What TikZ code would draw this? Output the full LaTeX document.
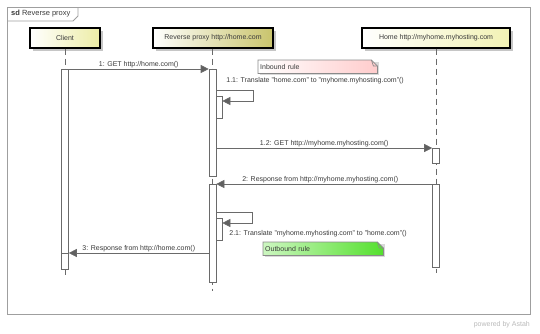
\documentclass[tikz,border=0pt]{standalone}
\usepackage{fontspec}
\setmainfont{Liberation Sans}
\usetikzlibrary{arrows.meta,shadows,calc}
\pgfdeclarelayer{bg}
\pgfsetlayers{bg,main}
\definecolor{linegray}{HTML}{6A6A6A}
\definecolor{txt}{HTML}{3A3A3A}
\definecolor{clientY}{HTML}{EDEDA6}
\definecolor{rpY}{HTML}{C9C46C}
\definecolor{homeY}{HTML}{F2F2B4}
\definecolor{pinkR}{HTML}{FFCCCC}
\definecolor{greenL}{HTML}{CCF6C0}
\definecolor{greenR}{HTML}{55E02E}
\definecolor{notegray}{HTML}{8A8A8A}
\begin{document}
\begin{tikzpicture}[x=1pt,y=-1pt,
  font=\fontsize{7}{8}\selectfont, text=txt,
  actor/.style={draw=black, line width=1.3pt, minimum height=20pt, inner sep=0pt,
    left color=white, text=txt,
    drop shadow={shadow xshift=2.5pt, shadow yshift=-2.5pt, fill=gray!45, opacity=1}},
  life/.style={draw=linegray, dash pattern=on 6pt off 4pt, line width=0.6pt},
  act/.style={draw=linegray, fill=white, minimum width=7pt, inner sep=0pt, anchor=north, line width=0.6pt},
  nest/.style={act, minimum width=6pt},
  msg/.style={draw=linegray, line width=0.6pt, -{Triangle[length=8pt,width=8pt,fill=gray!75!black]}},
  lbl/.style={inner sep=1.2pt},
  notetext/.style={anchor=north west, inner sep=2pt, align=left, minimum height=13pt},
  framestyle/.style={draw=gray!75, line width=0.9pt}
]
\useasboundingbox (0,0) rectangle (540,333);

% frame
\node[framestyle, anchor=north west, minimum width=523pt, minimum height=307pt, inner sep=0pt] (frame) at (7,7) {};
\node[anchor=west, inner sep=0pt, font=\fontsize{7.5}{8}\selectfont] (title) at (11,14) {\textbf{sd} Reverse proxy};
\coordinate (tabA) at (7,21);
\coordinate (tabB) at (73,21);
\coordinate (tabC) at (78,16);
\coordinate (tabD) at (78,7);
\draw[framestyle] (tabA) -- (tabB) -- (tabC) -- (tabD);

% actors
\node[actor, minimum width=70pt, right color=clientY] (client) at (65,38) {Client};
\node[actor, minimum width=120pt, right color=rpY] (rp) at (213,38) {Reverse proxy http://home.com};
\node[actor, minimum width=148pt, right color=homeY] (home) at (436,38) {Home http://myhome.myhosting.com};

% lifelines
\coordinate (clientEnd) at (65,278);
\coordinate (rpEnd) at (212.5,291);
\coordinate (homeEnd) at (436,273);
\draw[life] (client.south) -- (clientEnd);
\draw[life] (rp.south -| rpEnd) -- (rpEnd);
\draw[life] (home.south) -- (homeEnd);

% activations
\node[act, minimum height=200pt] (ca) at (65,69) {};
\node[act, minimum height=16pt] (cn) at (65,253) {};
\node[act, minimum height=107pt] (ra1) at (212.5,69) {};
\node[nest, minimum height=22pt] (rn1) at (219,96) {};
\node[act, minimum height=98pt] (ra2) at (212.5,184) {};
\node[nest, minimum height=22pt] (rn2) at (219,218) {};
\node[act, minimum height=15pt] (ha1) at (436,148) {};
\node[act, minimum height=83pt] (ha2) at (436,184) {};

% message 1
\draw[msg] (ca.north east) -- node[above, lbl] (l1) {1: GET http://home.com()} (ra1.north west);

% self message 1.1
\coordinate (s1a) at (253,90);
\coordinate (s1b) at (253,101);
\draw[msg] (ra1.east |- s1a) -- (s1a) -- (s1b) -- (rn1.east |- s1b);
\node[lbl, anchor=west] (l11) at (225,81) {1.1: Translate "home.com" to "myhome.myhosting.com"()};

% message 1.2
\draw[msg] (ra1.east |- ha1.north) -- node[above, lbl] (l12) {1.2: GET http://myhome.myhosting.com()} (ha1.north west);

% message 2
\draw[msg] (ha2.north west) -- node[above, lbl, xshift=-4pt] (l2) {2: Response from http://myhome.myhosting.com()} (ra2.north east);

% self message 2.1
\coordinate (s2a) at (252,212);
\coordinate (s2b) at (252,223);
\draw[msg] (ra2.east |- s2a) -- (s2a) -- (s2b) -- (rn2.east |- s2b);
\node[lbl, anchor=west] (l21) at (228,234) {2.1: Translate "myhome.myhosting.com" to "home.com"()};

% message 3
\draw[msg] (ra2.west |- cn.north) -- node[above, lbl] (l3) {3: Response from http://home.com()} (cn.north east);

% notes
\node[notetext, text width=115pt] (inb) at (258,60) {Inbound rule};
\node[notetext, text width=116pt] (outb) at (263,242) {Outbound rule};
\begin{pgfonlayer}{bg}
  \fill[gray!30] ($(inb.north west)+(2,2)$) -- ($(inb.north east)+(2,2)$) -- ($(inb.south east)+(2,2)$) -- ($(inb.south west)+(2,2)$) -- cycle;
  \shade[left color=white, right color=pinkR, draw=notegray, line width=0.7pt]
    (inb.north west) -- ($(inb.north east)+(-6,0)$) -- ($(inb.north east)+(0,6)$) -- (inb.south east) -- (inb.south west) -- cycle;
  \draw[notegray, line width=0.7pt] ($(inb.north east)+(-6,0)$) -- ($(inb.north east)+(-4,6)$) -- ($(inb.north east)+(0,6)$);
  \fill[gray!30] ($(outb.north west)+(2,2)$) -- ($(outb.north east)+(2,2)$) -- ($(outb.south east)+(2,2)$) -- ($(outb.south west)+(2,2)$) -- cycle;
  \shade[left color=greenL, right color=greenR, draw=notegray, line width=0.7pt]
    (outb.north west) -- ($(outb.north east)+(-6,0)$) -- ($(outb.north east)+(0,6)$) -- (outb.south east) -- (outb.south west) -- cycle;
  \draw[notegray, line width=0.7pt] ($(outb.north east)+(-6,0)$) -- ($(outb.north east)+(-4,6)$) -- ($(outb.north east)+(0,6)$);
\end{pgfonlayer}

% footer
\node[anchor=east, inner sep=0pt, text=gray!55, font=\fontsize{7}{8}\selectfont] (powered) at (530,325) {powered by Astah};
\end{tikzpicture}
\end{document}
